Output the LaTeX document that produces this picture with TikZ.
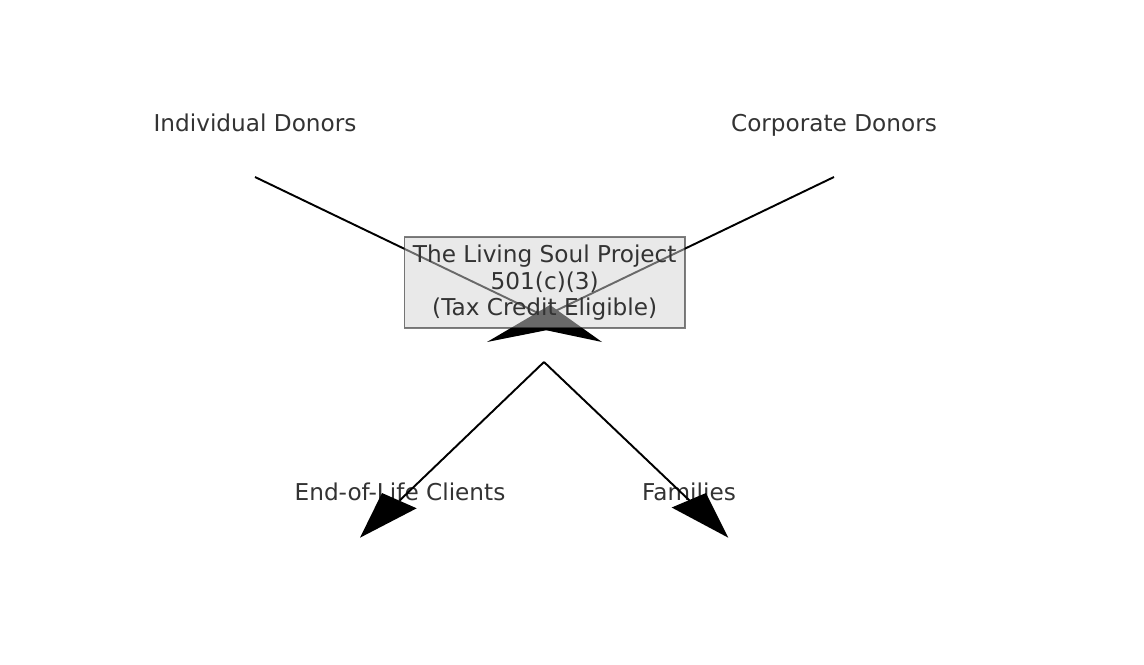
\documentclass[tikz,border=0pt]{standalone}
\usepackage{fontspec}
\setmainfont{DejaVu Sans}
\definecolor{txt}{RGB}{51,51,51}
\definecolor{boxfill}{RGB}{211,211,211}
\begin{document}
\begin{tikzpicture}[x=0.02cm,y=-0.02cm,
  lbl/.style={text=txt, font=\fontsize{13.2}{15.5}\selectfont, inner sep=0pt, anchor=base},
  conn/.style={line width=1.1pt, draw=black},
  head/.style={fill=black, draw=none},
  orgbox/.style={draw=black, draw opacity=0.5, line width=0.8pt, fill=boxfill, fill opacity=0.5,
    text opacity=1, text=txt, font=\fontsize{13.2}{15.3}\selectfont, align=center,
    minimum width=5.62cm, minimum height=1.82cm, inner sep=0pt}]
\useasboundingbox (0,0) rectangle (1144,664);
% labels
\node[lbl] (ind) at (255,131.7) {Individual Donors};
\node[lbl] (corp) at (834,131.7) {Corporate Donors};
\node[lbl] (eol) at (400,500) {End-of-Life Clients};
\node[lbl] (fam) at (689,500) {Families};
% connector coordinates
\coordinate (indS) at (255,177);
\coordinate (indE) at (540,314);
\coordinate (indT) at (602,342);
\coordinate (indB1) at (550,305);
\coordinate (indB2) at (530,326.8);
\coordinate (corpS) at (834,177);
\coordinate (corpE) at (549,314);
\coordinate (corpT) at (487,342);
\coordinate (corpB1) at (550,305);
\coordinate (corpB2) at (560,327.5);
\coordinate (orgS) at (544,362);
\coordinate (eolE) at (399.4,500.7);
\coordinate (eolT) at (360,537.7);
\coordinate (eolB1) at (416.7,508.3);
\coordinate (eolB2) at (382,493);
\coordinate (famE) at (689.5,500.5);
\coordinate (famT) at (728.3,537.7);
\coordinate (famB1) at (671.7,507.5);
\coordinate (famB2) at (706,493);
% donor arrows
\draw[conn] (indS) -- (indE);
\fill[head] (indT) -- (indB1) -- (indB2) -- cycle;
\draw[conn] (corpS) -- (corpE);
\fill[head] (corpT) -- (corpB1) -- (corpB2) -- cycle;
% outgoing arrows
\draw[conn] (orgS) -- (eolE);
\fill[head] (eolT) -- (eolB1) -- (eolB2) -- cycle;
\draw[conn] (orgS) -- (famE);
\fill[head] (famT) -- (famB1) -- (famB2) -- cycle;
% central box
\node[orgbox] (org) at (544.7,282.6) {The Living Soul Project\\501(c)(3)\\(Tax Credit Eligible)};
\end{tikzpicture}
\end{document}
